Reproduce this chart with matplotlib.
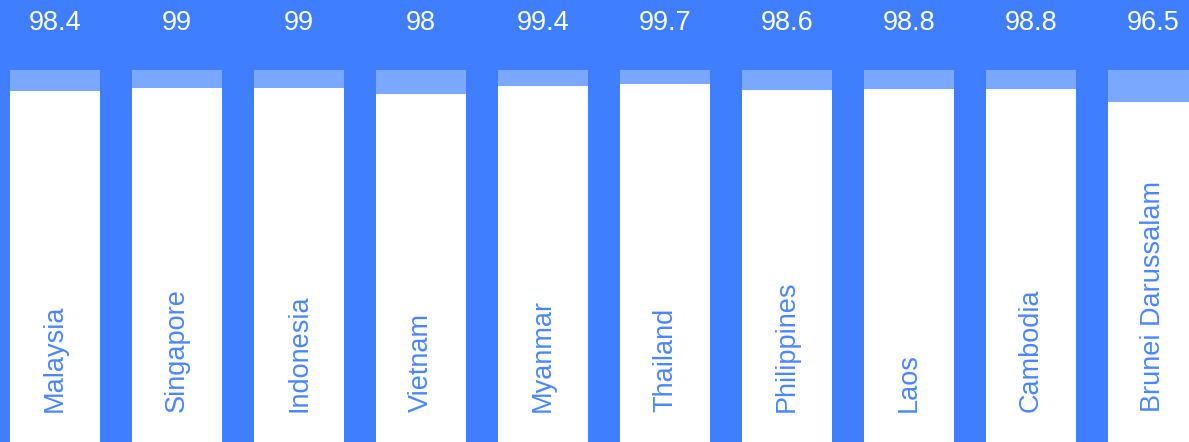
import numpy as np
import matplotlib
matplotlib.use("Agg")
from matplotlib import pyplot as plt
from matplotlib import transforms

# Dados
countries = ["Malaysia", "Singapore", "Indonesia", "Vietnam", "Myanmar",
             "Thailand", "Philippines", "Laos", "Cambodia", "Brunei Darussalam"]
values = [98.4, 99, 99, 98, 99.4, 99.7, 98.6, 98.8, 98.8, 96.5]
value_labels = ["98.4", "99", "99", "98", "99.4", "99.7", "98.6", "98.8", "98.8", "96.5"]
# faixa clara atrás de cada barra (máximo da escala)
track_value = 102.2

# Cores
bg_color = "#3f7eff"
track_color = "#7aa7ff"
bar_color = "#ffffff"
label_color = "#4a86ff"

plt.rcParams["font.family"] = ["Liberation Sans", "DejaVu Sans"]

fig = plt.figure(figsize=(11.89, 4.42), dpi=100)
fig.patch.set_facecolor(bg_color)
ax = fig.add_axes([0, 0, 1, 1])
ax.set_facecolor(bg_color)

x = np.arange(len(countries))
width = 0.738

ax.bar(x, [track_value] * len(x), width=width, color=track_color, linewidth=0)
ax.bar(x, values, width=width, color=bar_color, linewidth=0)

ax.set_xlim(-0.451, 9.295)
ax.set_ylim(36.06, 114.63)
ax.axis("off")

trans = transforms.blended_transform_factory(ax.transData, ax.transAxes)
for i, (name, lab) in enumerate(zip(countries, value_labels)):
    ax.text(i, 0.948, lab, transform=trans, ha="center", va="center",
            color="white", fontsize=19.5)
    ax.text(i, 0.068, name, transform=trans, ha="center", va="bottom",
            rotation=90, color=label_color, fontsize=19.5)

fig.savefig("out.png", dpi=100, facecolor=bg_color)
